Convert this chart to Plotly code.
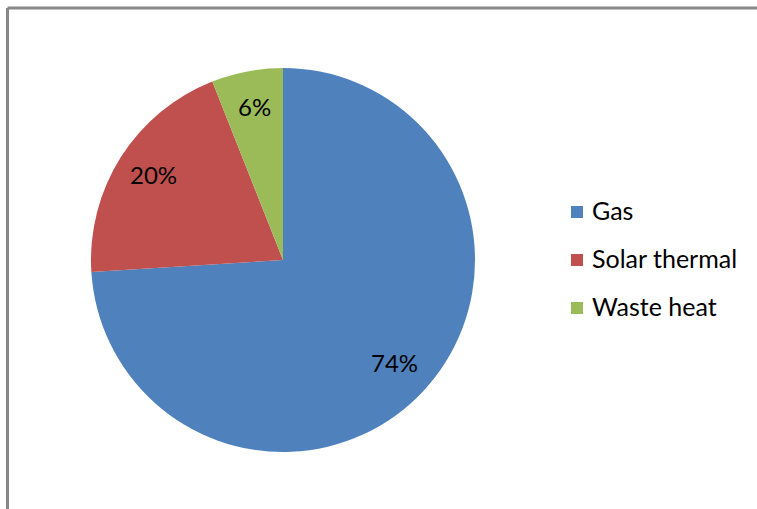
import math
import plotly.graph_objects as go

# Heat source shares (percent)
sources = ["Gas", "Solar thermal", "Waste heat"]
shares = [74, 20, 6]
colors = ["#4F81BD", "#C0504D", "#9BBB59"]

W, H = 757, 509
FONT = "Lato, 'Open Sans', sans-serif"
TEXT_COLOR = "#000000"

# Pie placement in pixels
cx, cy, r = 283, 260, 192

fig = go.Figure(
    go.Pie(
        labels=sources,
        values=shares,
        marker=dict(colors=colors, line=dict(width=0)),
        sort=False,
        direction="clockwise",
        rotation=0,
        textinfo="none",
        hoverinfo="label+percent",
        showlegend=False,
        domain=dict(
            x=[(cx - r) / W, (cx + r) / W],
            y=[(H - cy - r) / H, (H - cy + r) / H],
        ),
    )
)

# Percentage labels along each slice's bisector
total = sum(shares)
annotations = []
cum = 0
for val in shares:
    mid = (cum + val / 2) / total * 2 * math.pi
    cum += val
    lx = cx + 0.8 * r * math.sin(mid)
    ly = cy - 0.8 * r * math.cos(mid) - 3
    annotations.append(
        dict(
            x=lx / W, y=1 - ly / H, xref="paper", yref="paper",
            text=f"{round(val / total * 100)}%", showarrow=False,
            font=dict(family=FONT, size=24, color=TEXT_COLOR),
            xanchor="center", yanchor="middle",
        )
    )

# Legend: colour squares with labels
shapes = []
leg_x, leg_y0, leg_step, sq = 571, 212, 48, 12
for i, (name, col) in enumerate(zip(sources, colors)):
    yc = leg_y0 + i * leg_step
    shapes.append(
        dict(
            type="rect", xref="paper", yref="paper",
            x0=leg_x / W, x1=(leg_x + sq) / W,
            y0=1 - (yc + sq / 2) / H, y1=1 - (yc - sq / 2) / H,
            fillcolor=col, line=dict(width=0),
        )
    )
    annotations.append(
        dict(
            x=(leg_x + sq + 7) / W, y=1 - (yc - 2) / H, xref="paper", yref="paper",
            text=name, showarrow=False,
            font=dict(family=FONT, size=25, color=TEXT_COLOR),
            xanchor="left", yanchor="middle",
        )
    )

# Chart area frame (top and left edges)
frame = "#878787"
shapes.append(dict(type="line", xref="paper", yref="paper",
                   x0=7.5 / W, x1=1.0, y0=1 - 8 / H, y1=1 - 8 / H,
                   line=dict(color=frame, width=3)))
shapes.append(dict(type="line", xref="paper", yref="paper",
                   x0=7.5 / W, x1=7.5 / W, y0=0, y1=1 - 8 / H,
                   line=dict(color=frame, width=3)))

fig.update_layout(
    width=W, height=H,
    margin=dict(l=0, r=0, t=0, b=0),
    paper_bgcolor="white",
    plot_bgcolor="white",
    annotations=annotations,
    shapes=shapes,
    showlegend=False,
)

fig.write_html("out.html")
